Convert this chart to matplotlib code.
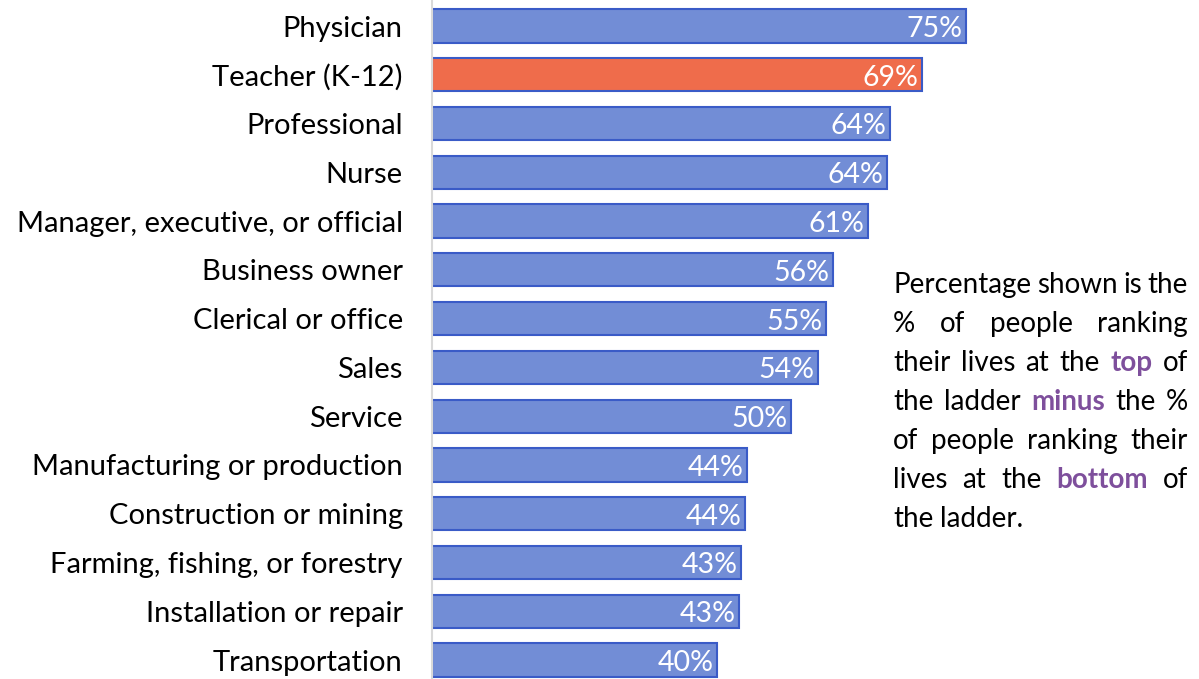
import matplotlib
matplotlib.use("Agg")
import matplotlib.pyplot as plt

plt.rcParams["font.family"] = ["Lato", "DejaVu Sans"]

# 数据
categories = ["Physician", "Teacher (K-12)", "Professional", "Nurse",
              "Manager, executive, or official", "Business owner",
              "Clerical or office", "Sales", "Service",
              "Manufacturing or production", "Construction or mining",
              "Farming, fishing, or forestry", "Installation or repair",
              "Transportation"]
values = [75.0, 68.8, 64.3, 63.9, 61.2, 56.3, 55.3, 54.2, 50.4, 44.2, 44.0, 43.4, 43.1, 40.0]
labels = ["75%", "69%", "64%", "64%", "61%", "56%", "55%", "54%", "50%",
          "44%", "44%", "43%", "43%", "40%"]
highlight = "Teacher (K-12)"

note_lines = [
    [("Percentage", 0), ("shown", 0), ("is", 0), ("the", 0)],
    [("%", 0), ("of", 0), ("people", 0), ("ranking", 0)],
    [("their", 0), ("lives", 0), ("at", 0), ("the", 0), ("top", 1), ("of", 0)],
    [("the", 0), ("ladder", 0), ("minus", 1), ("the", 0), ("%", 0)],
    [("of", 0), ("people", 0), ("ranking", 0), ("their", 0)],
    [("lives", 0), ("at", 0), ("the", 0), ("bottom", 1), ("of", 0)],
    [("the", 0), ("ladder.", 0)],
]

BLUE = "#728dd6"
EDGE = "#3a5bc7"
ORANGE = "#ef6c4b"
PURPLE = "#7e4f9c"
FS_LABEL = 21
FS_VALUE = 20.5
FS_NOTE = 20

W, H = 1199, 679
fig = plt.figure(figsize=(W / 100, H / 100), dpi=100)
ax = fig.add_axes([432 / W, 0, 712 / W, 1])

pos = list(range(len(categories)))
colors = [ORANGE if c == highlight else BLUE for c in categories]
ax.barh(pos, values, height=0.68, color=colors, edgecolor=EDGE, linewidth=1.5)

for p, v, lab in zip(pos, values, labels):
    ax.text(v - 0.5, p + 0.06, lab, ha="right", va="center", color="white", fontsize=FS_VALUE)

ax.set_xlim(0, 100)
ax.set_ylim((679 - 26) / 48.77, -26 / 48.77)
ax.set_yticks(pos)
ax.set_yticklabels(categories, fontsize=FS_LABEL)
ax.tick_params(axis="y", length=0, pad=21)
ax.set_xticks([])
for s in ["top", "right", "bottom"]:
    ax.spines[s].set_visible(False)
ax.spines["left"].set_color("#d9d9d9")
ax.spines["left"].set_linewidth(1.5)
ax.set_facecolor("none")

# 右侧说明文字（两端对齐）
renderer = fig.canvas.get_renderer()
x0, x1 = 893, 1188
y_top = 285
line_h = 39
t1 = fig.text(0, 0, "a b", fontsize=FS_NOTE)
t2 = fig.text(0, 0, "ab", fontsize=FS_NOTE)
space = t1.get_window_extent(renderer).width - t2.get_window_extent(renderer).width
t1.remove()
t2.remove()
for i, words in enumerate(note_lines):
    y = 1 - (y_top + i * line_h) / H
    texts = []
    for w, bold in words:
        t = fig.text(0, y, w, fontsize=FS_NOTE, va="center", ha="left",
                     color=PURPLE if bold else "black",
                     fontweight="bold" if bold else "normal")
        texts.append(t)
    widths = [t.get_window_extent(renderer).width for t in texts]
    if i == len(note_lines) - 1:
        gap = space
    else:
        gap = (x1 - x0 - sum(widths)) / (len(words) - 1)
    x = x0
    for t, wd in zip(texts, widths):
        t.set_x(x / W)
        x += wd + gap

fig.savefig("out.png", dpi=100)
